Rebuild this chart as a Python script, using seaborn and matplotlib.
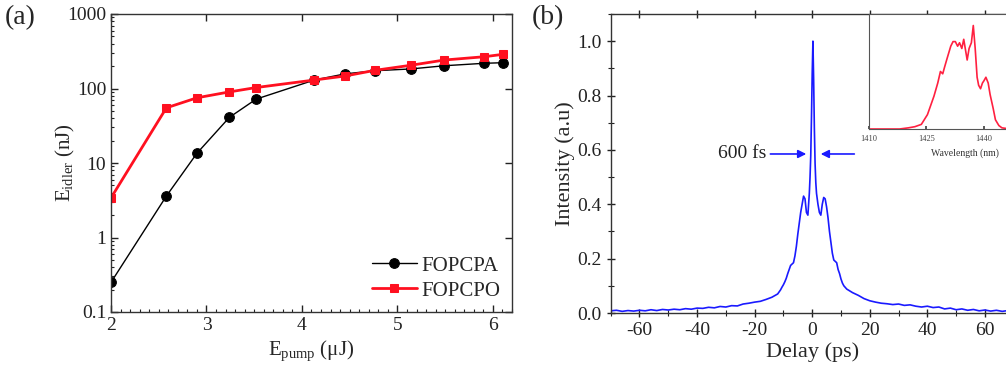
import numpy as np
import pandas as pd
import matplotlib
matplotlib.use("Agg")
import matplotlib.pyplot as plt
import seaborn as sns
from matplotlib.ticker import MultipleLocator, LogLocator, NullFormatter

# ---------------- data ----------------
pump_energy = [2.0, 2.58, 2.90, 3.24, 3.52, 4.13, 4.45, 4.76, 5.14, 5.49, 5.91, 6.11]
fopcpa = [0.25, 3.6, 13.5, 41, 72, 130, 157, 173, 183, 202, 218, 222]
fopcpo = [3.4, 55, 75, 90, 103, 130, 147, 175, 205, 241, 267, 288]

delay_ps = [-70, -68, -66, -64, -62, -60, -58, -56, -54, -52, -50, -48, -46, -44, -42,
            -40, -38, -36, -34, -32, -30, -28, -26, -24, -22, -20, -18, -16, -14, -12,
            -11, -10.5, -10, -9.5, -9, -8.5, -8, -7.5, -7, -6.5, -6, -5.5, -5, -4.5, -4,
            -3.5, -3, -2.5, -2, -1.5, -1, -0.75, -0.5, -0.25, 0, 0.25, 0.5, 0.75, 1, 1.25,
            1.5, 2, 2.5, 3, 3.5, 4, 4.5, 5, 5.5, 6, 6.5, 7, 7.5, 8, 8.5, 9, 9.5, 10, 10.5, 11,
            12, 14, 16, 18, 20, 22, 24, 26, 28, 30, 32, 34, 36, 38, 40, 42, 44, 46, 48, 50,
            52, 54, 56, 58, 60, 62, 64, 66, 68, 70]
intensity = [0.008, 0.010, 0.006, 0.009, 0.007, 0.010, 0.008, 0.012, 0.009, 0.013, 0.011,
             0.014, 0.012, 0.016, 0.014, 0.018, 0.017, 0.021, 0.019, 0.024, 0.022, 0.027,
             0.026, 0.033, 0.036, 0.040, 0.043, 0.050, 0.058, 0.070,
             0.085, 0.095, 0.104, 0.115, 0.128, 0.145, 0.160, 0.175, 0.180, 0.185, 0.210,
             0.245, 0.290, 0.330, 0.370, 0.400, 0.430, 0.420, 0.370, 0.360, 0.440, 0.500,
             0.580, 0.720, 0.880, 1.000, 0.860, 0.680, 0.550, 0.480, 0.440, 0.400, 0.370,
             0.360, 0.400, 0.425, 0.420, 0.390, 0.350, 0.300, 0.260, 0.220, 0.195, 0.190,
             0.185, 0.160, 0.145, 0.125, 0.110, 0.100,
             0.088, 0.075, 0.065, 0.053, 0.045, 0.040, 0.036, 0.034, 0.031, 0.033, 0.028,
             0.030, 0.025, 0.022, 0.025, 0.020, 0.022, 0.015, 0.018, 0.012, 0.015, 0.010,
             0.013, 0.008, 0.011, 0.007, 0.010, 0.006, 0.009, 0.007]

wavelength_nm = [1410, 1418, 1420.3, 1422, 1423.7, 1425.3, 1427, 1428, 1428.7, 1429.3, 1429.8,
                 1430.5, 1431.4, 1432, 1432.6, 1433.2, 1433.7, 1434.3, 1434.8, 1435.3, 1435.7,
                 1436.2, 1436.8, 1437.3, 1437.8, 1438.3, 1438.7, 1439.2, 1439.7, 1440.1,
                 1440.6, 1441.2, 1441.7, 1442.5, 1443.1, 1444, 1444.8, 1447, 1460]
spectrum = [0.0, 0.0, 0.01, 0.02, 0.04, 0.125, 0.285, 0.40, 0.50, 0.48, 0.54, 0.62, 0.72,
            0.76, 0.76, 0.72, 0.75, 0.70, 0.78, 0.68, 0.60, 0.70, 0.75, 0.90, 0.70, 0.45,
            0.38, 0.35, 0.40, 0.42, 0.45, 0.40, 0.30, 0.18, 0.08, 0.03, 0.01, 0.0, 0.0]

# ---------------- style ----------------
sns.set_theme(style="ticks")
plt.rcParams["font.family"] = ["Liberation Serif", "DejaVu Serif"]
plt.rcParams["mathtext.fontset"] = "custom"
plt.rcParams["mathtext.rm"] = "Liberation Serif"
plt.rcParams["mathtext.it"] = "Liberation Serif:italic"
plt.rcParams["axes.unicode_minus"] = False
plt.rcParams["axes.linewidth"] = 1.0
plt.rcParams["axes.edgecolor"] = "#333333"

fig = plt.figure(figsize=(10.06, 3.70), dpi=100)

# ---------------- panel (a) ----------------
axa = fig.add_axes([111 / 1006, 58 / 370, 401 / 1006, 298 / 370])
dfa = pd.DataFrame({"E_pump": pump_energy + pump_energy,
                    "E_idler": fopcpa + fopcpo,
                    "series": ["FOPCPA"] * len(fopcpa) + ["FOPCPO"] * len(fopcpo)})
sns.lineplot(data=dfa[dfa.series == "FOPCPA"], x="E_pump", y="E_idler", ax=axa,
             color="black", lw=1.0, marker="o", markersize=7, markeredgecolor="black",
             label="FOPCPA")
sns.lineplot(data=dfa[dfa.series == "FOPCPO"], x="E_pump", y="E_idler", ax=axa,
             color="#ff1020", lw=2.0, marker="s", markersize=6, markeredgecolor="#ff1020",
             label="FOPCPO")
axa.set_yscale("log")
axa.set_xlim(2.0, 6.2)
axa.set_ylim(0.1, 1000)
axa.set_yticks([0.1, 1, 10, 100, 1000])
axa.set_yticklabels(["0.1", "1", "10", "100", "1000"])
axa.yaxis.set_minor_locator(LogLocator(base=10, subs=np.arange(2, 10)))
axa.yaxis.set_minor_formatter(NullFormatter())
axa.set_xticks([2, 3, 4, 5, 6])
axa.xaxis.set_minor_locator(MultipleLocator(0.1))
axa.tick_params(which="both", direction="in", top=True, right=True, labelsize=14,
                colors="#222222")
axa.tick_params(which="major", length=5, width=1)
axa.tick_params(which="minor", length=2.5, width=0.8)
axa.tick_params(axis="x", which="minor", top=False)
axa.tick_params(axis="y", which="minor", right=False)
axa.set_xlabel(r"E$_{\rm pump}$ (μJ)", fontsize=15, labelpad=3)
axa.set_ylabel(r"E$_{\rm idler}$ (nJ)", fontsize=15)
axa.yaxis.set_label_coords(-0.085, 0.5)
leg = axa.legend(loc="lower right", frameon=False, fontsize=15, handlelength=2.2,
                 handletextpad=0.2, borderaxespad=0.15, labelspacing=0.25)
fig.text(0.005, 0.985, "(a)", fontsize=20, va="top", ha="left")

# ---------------- panel (b) ----------------
axb = fig.add_axes([610.7 / 1006, 57 / 370, 403 / 1006, 299 / 370])
dfb = pd.DataFrame({"delay": delay_ps, "intensity": intensity})
sns.lineplot(data=dfb, x="delay", y="intensity", ax=axb, color="#1a1aff", lw=1.2)
axb.set_xlim(-70, 70)
axb.set_ylim(0, 1.1)
axb.set_xticks([-60, -40, -20, 0, 20, 40, 60])
axb.xaxis.set_minor_locator(MultipleLocator(10))
axb.set_yticks([0.0, 0.2, 0.4, 0.6, 0.8, 1.0])
axb.set_yticklabels(["0.0", "0.2", "0.4", "0.6", "0.8", "1.0"])
axb.yaxis.set_minor_locator(MultipleLocator(0.1))
axb.tick_params(which="both", direction="inout", top=True, labelsize=14, colors="#222222")
axb.tick_params(which="major", length=6, width=1)
axb.tick_params(which="minor", length=4, width=0.8)
axb.tick_params(axis="x", which="minor", top=False)
axb.set_xlabel("Delay (ps)", fontsize=16, labelpad=2)
axb.set_ylabel("Intensity (a.u)", fontsize=16, labelpad=2)

arrow_kw = dict(arrowstyle="-|>", color="#1a1aff", lw=1.2, mutation_scale=12)
axb.annotate("", xy=(-1.1, 0.585), xytext=(-15.5, 0.585), arrowprops=arrow_kw)
axb.annotate("", xy=(2.0, 0.585), xytext=(15.6, 0.585), arrowprops=arrow_kw)
axb.text(-16, 0.585, "600 fs", fontsize=14, ha="right", va="center", color="#222222")
fig.text(532 / 1006, 0.985, "(b)", fontsize=20, va="top", ha="left")

# ---------------- inset ----------------
axi = fig.add_axes([869 / 1006, 241 / 370, 191 / 1006, 115 / 370])
dfi = pd.DataFrame({"wl": wavelength_nm, "s": spectrum})
sns.lineplot(data=dfi, x="wl", y="s", ax=axi, color="#ff2040", lw=1.2)
axi.set_xlim(1410, 1460)
axi.set_ylim(0, 1.0)
axi.set_xticks([1410, 1425, 1440, 1455])
axi.set_yticks([])
axi.tick_params(axis="x", labelsize=6, length=2, direction="in", pad=4, colors="#444444")
axi.set_xlabel("Wavelength (nm)", fontsize=7, labelpad=4, color="#333333")
axi.set_ylabel("")
for sp in axi.spines.values():
    sp.set_linewidth(0.8)
    sp.set_color("#555555")

fig.savefig("out.png", dpi=100)
